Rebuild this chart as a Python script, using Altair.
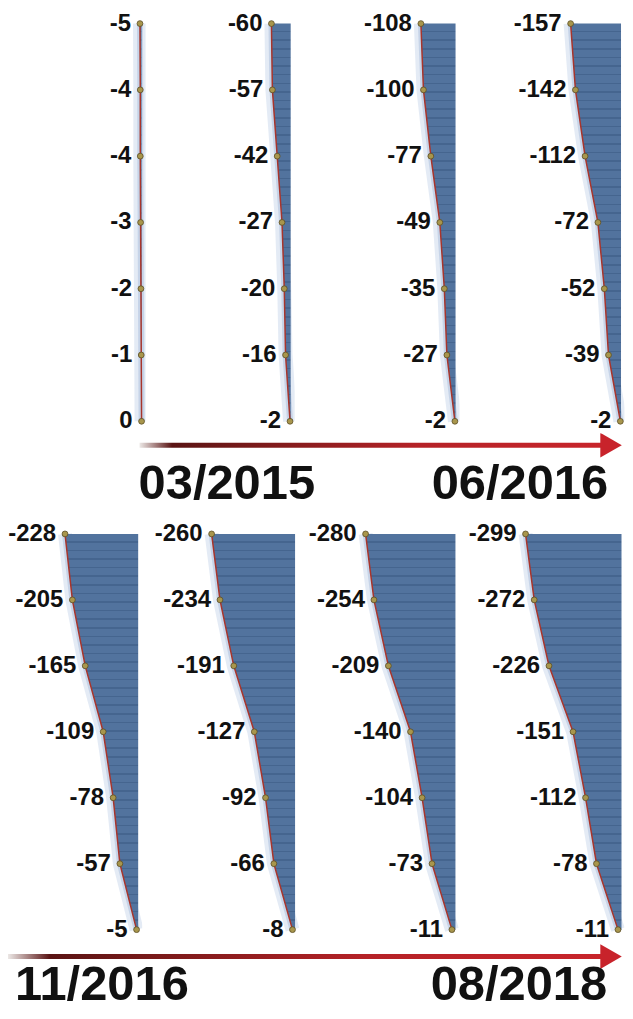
import altair as alt
import pandas as pd

# ---------------- data ----------------
levels = [0, 1, 2, 3, 4, 5, 6]          # 0 = top of profile, 6 = bottom
p1 = [-5, -4, -4, -3, -2, -1, 0]
p2 = [-60, -57, -42, -27, -20, -16, -2]
p3 = [-108, -100, -77, -49, -35, -27, -2]
p4 = [-157, -142, -112, -72, -52, -39, -2]
p5 = [-228, -205, -165, -109, -78, -57, -5]
p6 = [-260, -234, -191, -127, -92, -66, -8]
p7 = [-280, -254, -209, -140, -104, -73, -11]
p8 = [-299, -272, -226, -151, -112, -78, -11]
series = [p1, p2, p3, p4, p5, p6, p7, p8]

dates_row1 = ["03/2015", "06/2016"]
dates_row2 = ["11/2016", "08/2018"]

rows = []
for pi, vals in enumerate(series):
    for lv, v in zip(levels, vals):
        rows.append({"panel": pi, "level": lv, "value": v, "label": str(v), "zero": 0})
df = pd.DataFrame(rows)

# ---------------- styling / layout ----------------
K = 0.322                     # pixels per unit (shared horizontal scale)
TOTAL_W = 617
FONT = "Liberation Sans, Arial, sans-serif"
BLUE = "#52739e"
STRIPE = "#45658f"
LINE = "#a8352c"
PT_FILL = "#a8964c"
PT_STROKE = "#5c4e26"

N_STRIPES = 46
stops = []
for i in range(N_STRIPES):
    a = i / N_STRIPES
    b = (i + 0.82) / N_STRIPES
    c = (i + 1) / N_STRIPES
    stops += [
        alt.GradientStop(offset=a, color=BLUE),
        alt.GradientStop(offset=b, color=BLUE),
        alt.GradientStop(offset=b, color=STRIPE),
        alt.GradientStop(offset=c, color=STRIPE),
    ]
fill_grad = alt.LinearGradient(gradient="linear", stops=stops, x1=0, x2=0, y1=0, y2=1)

shaft_grad = alt.LinearGradient(
    gradient="linear",
    stops=[
        alt.GradientStop(offset=0.0, color="#ece8e6"),
        alt.GradientStop(offset=0.07, color="#5a1414"),
        alt.GradientStop(offset=0.25, color="#7a1a1a"),
        alt.GradientStop(offset=0.6, color="#b52227"),
        alt.GradientStop(offset=1.0, color="#c8252b"),
    ],
    x1=0, x2=1, y1=0, y2=0,
)


def panel(pi, width, zero_px, height, top_pad, spacing, bottom_pad):
    # zero_px: distance (px) from the view's left edge to value 0
    dom_x = [-zero_px / K, (width - zero_px) / K]
    dom_y = [-top_pad / spacing, 6 + bottom_pad / spacing]
    base = alt.Chart(df).transform_filter(alt.datum.panel == pi)
    x = alt.X("value:Q", scale=alt.Scale(domain=dom_x, nice=False, zero=False), axis=None)
    y = alt.Y("level:Q", scale=alt.Scale(domain=dom_y, reverse=True, nice=False, zero=False), axis=None)
    glow = base.mark_line(color="#b3c7e2", strokeWidth=14, opacity=0.35, clip=True,
                          strokeJoin="round").encode(x=x, y=y, order="level:Q")
    glow2 = base.mark_line(color="#8eaad0", strokeWidth=6, opacity=0.35, clip=True,
                           strokeJoin="round").encode(x=x, y=y, order="level:Q")
    area = base.mark_area(orient="horizontal", color=fill_grad, opacity=1).encode(
        x=x, x2="zero", y=y)
    line = base.mark_line(color=LINE, strokeWidth=1.5, strokeJoin="round").encode(
        x=x, y=y, order="level:Q")
    pts = base.mark_point(shape="circle", filled=True, size=34, fill=PT_FILL,
                          stroke=PT_STROKE, strokeWidth=0.8, opacity=1).encode(x=x, y=y)
    txt = base.mark_text(align="right", baseline="middle", dx=-9, font=FONT,
                         fontWeight="bold", fontSize=24, color="#111111").encode(
        x=x, y=y, text="label:N")
    return alt.layer(glow, glow2, area, line, pts, txt).properties(width=width, height=height)


def panel_row(first, zeros_page, height, top_pad, spacing, bottom_pad):
    charts = []
    left = 8
    for j, z in enumerate(zeros_page):
        right = TOTAL_W + 8 if j == len(zeros_page) - 1 else z + 4
        charts.append(panel(first + j, right - left, z - left, height, top_pad, spacing, bottom_pad))
        left = right
    return alt.hconcat(*charts, spacing=0)


def arrow_row(dates, height, shaft_x0, shaft_y, text_x, text_y):
    one = pd.DataFrame({"k": [0]})
    shaft = alt.Chart(one).mark_rect(color=shaft_grad).encode(
        x=alt.value(shaft_x0), x2=alt.value(598),
        y=alt.value(shaft_y - 2.5), y2=alt.value(shaft_y + 2.5))
    head = alt.Chart(one).mark_point(
        shape="triangle-right", size=620, filled=True, clip=True,
        color="#c8232b", opacity=1).encode(x=alt.value(605), y=alt.value(shaft_y))
    layers = [shaft, head]
    for d, tx in zip(dates, text_x):
        layers.append(
            alt.Chart(pd.DataFrame({"date": [d]})).mark_text(
                align="left", baseline="alphabetic", font=FONT, fontWeight="bold",
                fontSize=49, color="#111111").encode(
                text="date:N", x=alt.value(tx), y=alt.value(text_y)))
    return alt.layer(*layers).properties(width=TOTAL_W, height=height)


# page x-positions of value 0 in each panel
row1_zero = [142, 290.6, 455.6, 621.6]
row2_zero = [138.6, 295.6, 455.5, 622]

row1 = panel_row(0, row1_zero, 425, 14, 66.5, 12)
row2 = panel_row(4, row2_zero, 430, 21, 66.17, 12)

arrow1 = arrow_row(dates_row1, 80, 132, 12, [131, 425], 66)
arrow2 = arrow_row(dates_row2, 68, 0, 14, [7, 424], 58)

chart = alt.vconcat(row1, arrow1, row2, arrow2, spacing=0).properties(
    padding=0, background="white"
).configure_view(stroke=None).configure_concat(spacing=0)

chart.save("out.html", embed_options={"renderer": "svg", "actions": False})
